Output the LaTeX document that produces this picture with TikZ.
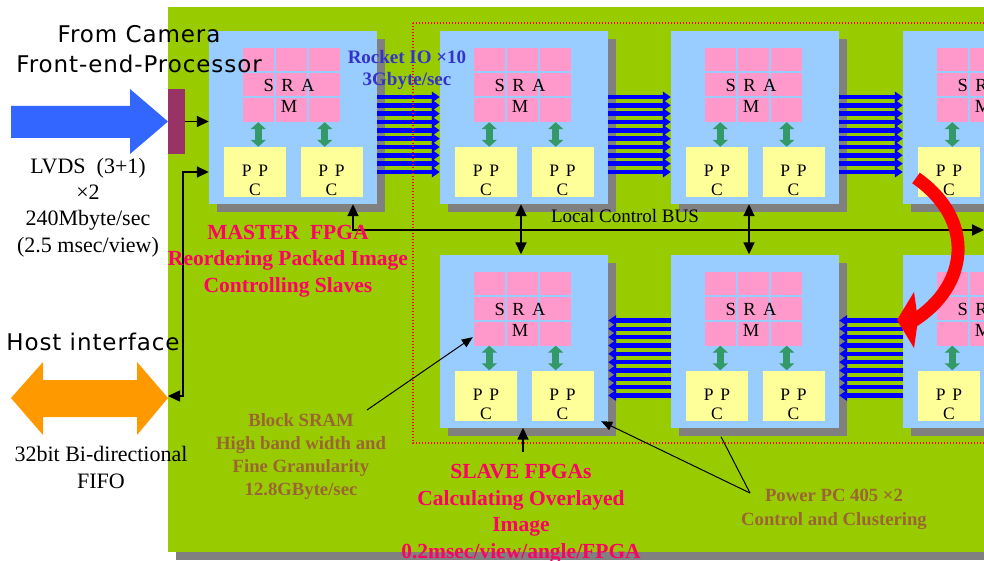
\documentclass[tikz,border=0pt]{standalone}
\usepackage{fontspec}
\setmainfont{Liberation Serif}
\newfontfamily\camsans[LetterSpace=4]{DejaVu Sans}
\usetikzlibrary{calc}
\usetikzlibrary{arrows.meta}

\definecolor{boardgreen}{HTML}{99CC00}
\definecolor{boxblue}{HTML}{99CCFF}
\definecolor{srampink}{HTML}{FF99CC}
\definecolor{ppcyellow}{HTML}{FFFF99}
\definecolor{linkgreen}{HTML}{339966}
\definecolor{rocketblue}{HTML}{0000FF}
\definecolor{camblue}{HTML}{3366FF}
\definecolor{hostorange}{HTML}{FF9900}
\definecolor{fepmaroon}{HTML}{993366}
\definecolor{hotpink}{HTML}{FF0066}
\definecolor{notebrown}{HTML}{996633}
\definecolor{riolabel}{HTML}{3333CC}
\definecolor{shadowgray}{HTML}{808080}

\newcommand{\chipgap}{\hspace{0.4em}}

\begin{document}
\begin{tikzpicture}[x=1pt,y=-1pt,
  fpga/.style={fill=boxblue, minimum width=168pt, minimum height=173pt, inner sep=0pt},
  fpgashadow/.style={fill=shadowgray, minimum width=168pt, minimum height=173pt, inner sep=0pt},
  sram/.style={fill=srampink, minimum width=97pt, minimum height=74pt, inner sep=0pt},
  cellgap/.style={boxblue, line width=2pt},
  ppc/.style={fill=ppcyellow, minimum width=62pt, minimum height=50pt, inner sep=0pt},
  ramtext/.style={font=\fontsize{18.5}{21}\selectfont, align=center, inner sep=0pt, anchor=base},
  ppctext/.style={font=\fontsize{17.5}{19}\selectfont, align=center, inner sep=0pt, anchor=base},
  duplex/.style={linkgreen, line width=7pt, {Triangle[width=15pt,length=7pt]}-{Triangle[width=15pt,length=7pt]}},
  rocket/.style={rocketblue, line width=4.6pt, -{Triangle[width=10.5pt,length=8pt]}},
  ctl/.style={line width=1.6pt, >={Triangle[width=11pt,length=12pt]}},
  bus/.style={line width=1.8pt, >={Triangle[width=11pt,length=12pt]}},
  pinline/.style={line width=1pt, >={Triangle[width=9pt,length=11pt]}},
  sanslabel/.style={font=\camsans\fontsize{23}{30}\selectfont, align=center, inner sep=0pt, anchor=base},
  plainlabel/.style={font=\fontsize{22}{26.3}\selectfont, align=center, inner sep=0pt, anchor=base},
  titlelabel/.style={text=hotpink, font=\bfseries\fontsize{21.5}{26.4}\selectfont, align=center, inner sep=0pt, anchor=base},
  notelabel/.style={text=notebrown, font=\bfseries\fontsize{18.7}{#1}\selectfont, align=center, inner sep=0pt, anchor=base},
  riotext/.style={text=riolabel, font=\bfseries\fontsize{19}{22}\selectfont, align=center, inner sep=0pt, anchor=base}]
\useasboundingbox (0,0) rectangle (984,561);
\clip (0,0) rectangle (984,561);
\fill[white] (0,0) rectangle (984,561);

% board
\fill[shadowgray] (176,15) rectangle (1000,560);
\fill[boardgreen] (168,7) rectangle (992,552);

% FPGA blocks
\foreach \n/\x/\y in {m/293/117.5, t1/524/117.5, t2/755/117.5, t3/987/117.5,
                      b1/524/341, b2/755/341, b3/987/341} {
  \node[fpgashadow] at (\x+8,\y+8) {};
  \node[fpga] (\n) at (\x,\y) {};
  \node[sram] (\n-ram) at ($(\n)+(-1.5,-32.5)$) {};
  \foreach \c in {32,65}
    \draw[cellgap] ($(\n-ram.north west)+(\c,0)$) -- ($(\n-ram.south west)+(\c,0)$);
  \foreach \r in {24.5,49.5}
    \draw[cellgap] ($(\n-ram.north west)+(0,\r)$) -- ($(\n-ram.north east)+(0,\r)$);
  \node[ramtext] at ($(\n)+(-4,-4.5)$) {S\chipgap R\chipgap A\\M};
  \node[ppc] (\n-pl) at ($(\n)+(-38,54.5)$) {};
  \node[ppc] (\n-pr) at ($(\n)+(38.5,54.5)$) {};
  \node[ppctext] at ($(\n-pl)+(0,24)$) {P\chipgap P\\C};
  \node[ppctext] at ($(\n-pr)+(0,24)$) {P\chipgap P\\C};
  \coordinate (\n-l) at ($(\n-ram.south west)+(15.5,0)$);
  \coordinate (\n-r) at ($(\n-ram.south east)+(-15.5,0)$);
  \draw[duplex] (\n-l) -- (\n-l |- \n-pl.north);
  \draw[duplex] (\n-r) -- (\n-r |- \n-pr.north);
}

% rocket IO links
\foreach \a/\b in {m/t1, t1/t2, t2/t3}
  \foreach \k in {0,...,9}
    \draw[rocket] ($(\a.east)+(0,{-20.5+8.33*\k})$) -- ($(\b.west)+(0,{-20.5+8.33*\k})$);
\foreach \a/\b in {b2/b1, b3/b2}
  \foreach \k in {0,...,9}
    \draw[rocket] ($(\a.west)+(0,{-20.5+8.33*\k})$) -- ($(\b.east)+(0,{-20.5+8.33*\k})$);

% slave area
\draw[red, line width=1.4pt, dash pattern=on 1.4pt off 1.6pt] (413,23) rectangle (1000,443);

% inputs
\fill[camblue] (11,106) -- (130,106) -- (130,89) -- (168,121.5) -- (130,154) -- (130,138) -- (11,138) -- cycle;
\fill[hostorange] (11,398) -- (43,362) -- (43,380) -- (137,380) -- (137,362) -- (168,398)
  -- (137,435) -- (137,417) -- (43,417) -- (43,435) -- cycle;
\node[fill=fepmaroon, minimum width=17pt, minimum height=65pt, inner sep=0pt] (fep) at (176.5,121.5) {};
\coordinate (host) at (168,396);

% control
\draw[ctl,->] (fep.east) -- (fep.east -| m.west);
\draw[ctl,<->] (host) -| ($(m.west)+(-26,54.5)$) -- ($(m.west)+(0,54.5)$);
\coordinate (busend) at (984,230);
\draw[bus,<->] ($(m.south)+(60,0)$) |- (busend);
\draw[bus,<->] ($(t1.south)+(-3,0)$) -- ($(b1.north)+(-3,0)$);
\draw[bus,<->] ($(t2.south)+(-6,0)$) -- ($(b2.north)+(-6,0)$);
\coordinate (slv-pin) at (523,452);
\draw[ctl,->] (slv-pin) -- (slv-pin |- b1.south);
\coordinate (bs-pin) at (367,410);
\draw[pinline,->] (bs-pin) -- ($(b1-ram.south west)+(-1,-8.5)$);
\coordinate (pp-pin) at (750,493);
\draw[pinline,->] (pp-pin) -- ($(b1-pr.south east)+(7.5,0.5)$);
\draw[pinline] (pp-pin) -- ($(b2.south)+(-34,9)$);

% turn round to the lower row
\draw[red, line width=13pt] (916,178) .. controls (976,220) and (969,286) .. (913,321);
\fill[red] (897,320) -- (914,292) -- (918,320) -- (914,348) -- cycle;

% labels (multi-line nodes sit on their last baseline)
\node[sanslabel] (cam) at (139,73) {From Camera\\Front-end-Processor};
\node[sanslabel] (hostlbl) at (93,350) {Host interface};
\node[plainlabel] (lvds) at (88,252) {LVDS~~(3+1)\\×2\\240Mbyte/sec\\(2.5 msec/view)};
\node[plainlabel] (fifo) at (101,488) {32bit Bi-directional\\FIFO};
\node[riotext] (rio) at (407,86) {Rocket IO ×10\\3Gbyte/sec};
\node[titlelabel] (mst) at (288,292) {MASTER\ \ FPGA\\Reordering Packed Image\\Controlling Slaves};
\node[font=\fontsize{19}{22}\selectfont, inner sep=0pt, anchor=base] (buslbl) at (625,223) {Local Control BUS};
\node[notelabel=22.7] (bsram) at (301,495) {Block SRAM\\High band width and\\Fine Granularity\\12.8GByte/sec};
\node[notelabel=24] (ppcnote) at (834,525) {Power PC 405 ×2\\Control and Clustering};
\node[titlelabel] (slv) at (521,558) {SLAVE FPGAs\\Calculating Overlayed\\Image\\0.2msec/view/angle/FPGA};
\end{tikzpicture}
\end{document}
